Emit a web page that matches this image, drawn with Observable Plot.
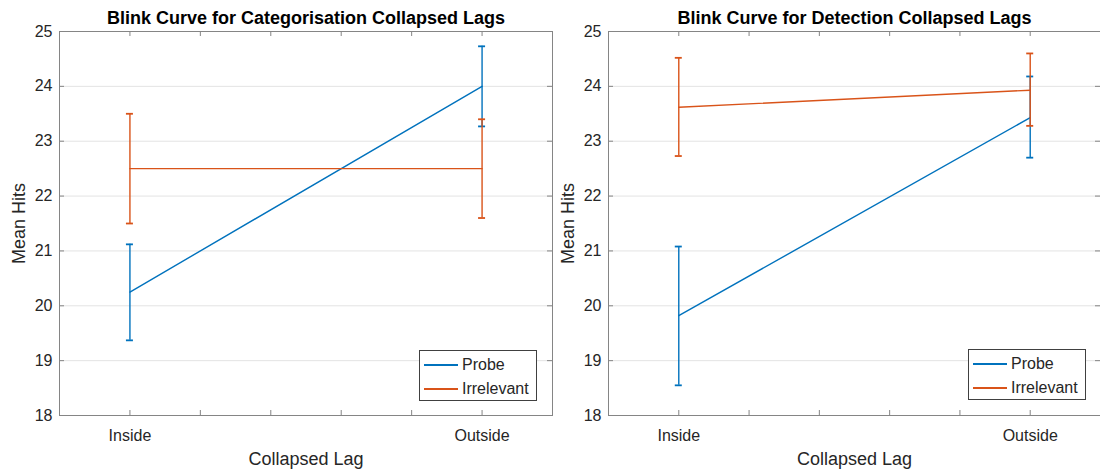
<!DOCTYPE html>
<html>
<head>
<meta charset="utf-8">
<script src="https://cdn.jsdelivr.net/npm/d3@7"></script>
<script src="https://cdn.jsdelivr.net/npm/@observablehq/plot@0.6"></script>
<style>
  html, body { margin: 0; padding: 0; background: #fff; }
  #root { position: relative; width: 1100px; height: 470px; overflow: hidden; background: #fff;
          font-family: "Liberation Sans", Arial, Helvetica, sans-serif; }
  .panel { position: absolute; top: 0; width: 560px; height: 470px; }
  .panel svg { max-width: none !important; }
  .legend { position: absolute; background: #fff; border: 1px solid #404040; box-sizing: border-box;
            font-size: 16px; color: #262626; }
  .legend .row { position: absolute; left: 0; height: 20px; line-height: 20px; white-space: nowrap; }
  .legend .sw { position: absolute; left: 4px; top: 9px; width: 34px; height: 2px; }
  .legend .lab { position: absolute; left: 42px; top: 0; }
</style>
</head>
<body>
<div id="root"></div>
<script>
// ---- data ----
const lagNames = ["Inside", "Outside"];
const lagCodes = [1, 2];
const seriesNames = ["Probe", "Irrelevant"];
const seriesColors = ["#0072BD", "#D95319"];
const xTicks = [1, 1.2, 1.4, 1.6, 1.8, 2];
const yTicks = [18, 19, 20, 21, 22, 23, 24, 25];
const titles = ["Blink Curve for Categorisation Collapsed Lags", "Blink Curve for Detection Collapsed Lags"];

const catProbeMean = [20.25, 24.00];
const catProbeLo   = [19.37, 23.27];
const catProbeHi   = [21.12, 24.73];
const catIrrMean   = [22.50, 22.50];
const catIrrLo     = [21.50, 21.60];
const catIrrHi     = [23.50, 23.40];

const detProbeMean = [19.82, 23.43];
const detProbeLo   = [18.55, 22.70];
const detProbeHi   = [21.08, 24.18];
const detIrrMean   = [23.62, 23.93];
const detIrrLo     = [22.73, 23.28];
const detIrrHi     = [24.52, 24.60];

function rowsFor(name, mean, lo, hi) {
  return lagCodes.map((c, i) => ({series: name, x: c, mean: mean[i], lo: lo[i], hi: hi[i]}));
}

function panel({title, probe, irr, width, marginLeft, marginRight}) {
  const height = 470, marginTop = 31, marginBottom = 55;
  const xDom = [0.8, 2.2], yDom = [18, 25];
  const pxX = (xDom[1] - xDom[0]) / (width - marginLeft - marginRight);
  const pxY = (yDom[1] - yDom[0]) / (height - marginTop - marginBottom);
  const tick = 5, cap = 3.5;
  const axisCol = "#858585";
  const marks = [
    Plot.gridY(yTicks, {stroke: "#e3e3e3", strokeOpacity: 1}),
    Plot.ruleY(yTicks, {x1: xDom[0], x2: xDom[0] + tick * pxX, stroke: axisCol}),
    Plot.ruleY(yTicks, {x1: xDom[1] - tick * pxX, x2: xDom[1], stroke: axisCol}),
    Plot.ruleX(xTicks, {y1: yDom[0], y2: yDom[0] + tick * pxY, stroke: axisCol}),
    Plot.ruleX(xTicks, {y1: yDom[1] - tick * pxY, y2: yDom[1], stroke: axisCol}),
    Plot.axisY(yTicks, {tickSize: 0, tickPadding: 7, fontSize: 16, fill: "#262626", label: null,
                        tickFormat: d => String(d)}),
    Plot.axisX(lagCodes, {tickSize: 0, tickPadding: 14, fontSize: 16, fill: "#262626", label: null,
                          tickFormat: d => lagNames[lagCodes.indexOf(d)]}),
    Plot.text(["Mean Hits"], {frameAnchor: "left", dx: -40, rotate: -90, textAnchor: "middle",
                              lineAnchor: "middle", fontSize: 18, fill: "#262626"}),
    Plot.text(["Collapsed Lag"], {frameAnchor: "bottom", dy: 44, textAnchor: "middle", lineAnchor: "middle",
                                  fontSize: 18, fill: "#262626"}),
    Plot.text([title], {frameAnchor: "top", dy: -13, textAnchor: "middle", lineAnchor: "middle", fontSize: 18,
                        fontWeight: "bold", fill: "#000"})
  ];
  [probe, irr].forEach((rows, k) => {
    const color = seriesColors[k];
    marks.push(
      Plot.ruleX(rows, {x: "x", y1: "lo", y2: "hi", stroke: color, strokeWidth: 1.4}),
      Plot.ruleY(rows, {y: "hi", x1: d => d.x - cap * pxX, x2: d => d.x + cap * pxX, stroke: color, strokeWidth: 1.8}),
      Plot.ruleY(rows, {y: "lo", x1: d => d.x - cap * pxX, x2: d => d.x + cap * pxX, stroke: color, strokeWidth: 1.8}),
      Plot.line(rows, {x: "x", y: "mean", stroke: color, strokeWidth: 1.4})
    );
  });
  marks.push(Plot.frame({stroke: axisCol}));
  return Plot.plot({
    width, height, marginTop, marginBottom, marginLeft, marginRight,
    style: {background: "transparent", fontFamily: "'Liberation Sans', Arial, Helvetica, sans-serif",
            color: "#262626", overflow: "visible", maxWidth: "none"},
    x: {domain: xDom},
    y: {domain: yDom},
    marks
  });
}

function legend(left, top) {
  const el = document.createElement("div");
  el.className = "legend";
  el.style.left = left + "px"; el.style.top = top + "px";
  el.style.width = "118px"; el.style.height = "51px";
  seriesNames.forEach((n, i) => {
    const r = document.createElement("div");
    r.className = "row";
    r.style.top = (4 + i * 24) + "px";
    const sw = document.createElement("div");
    sw.className = "sw"; sw.style.background = seriesColors[i];
    const lab = document.createElement("div");
    lab.className = "lab"; lab.textContent = n;
    r.appendChild(sw); r.appendChild(lab);
    el.appendChild(r);
  });
  return el;
}

const root = document.getElementById("root");
const p1 = panel({title: titles[0],
  probe: rowsFor(seriesNames[0], catProbeMean, catProbeLo, catProbeHi),
  irr: rowsFor(seriesNames[1], catIrrMean, catIrrLo, catIrrHi),
  width: 560, marginLeft: 59, marginRight: 8});
const p2 = panel({title: titles[1],
  probe: rowsFor(seriesNames[0], detProbeMean, detProbeLo, detProbeHi),
  irr: rowsFor(seriesNames[1], detIrrMean, detIrrLo, detIrrHi),
  width: 560, marginLeft: 59, marginRight: 9});
const d1 = document.createElement("div"); d1.className = "panel"; d1.style.left = "0px"; d1.appendChild(p1);
const d2 = document.createElement("div"); d2.className = "panel"; d2.style.left = "549px"; d2.appendChild(p2);
root.appendChild(d1); root.appendChild(d2);
root.appendChild(legend(419, 350));
root.appendChild(legend(968, 349));
</script>
</body>
</html>
